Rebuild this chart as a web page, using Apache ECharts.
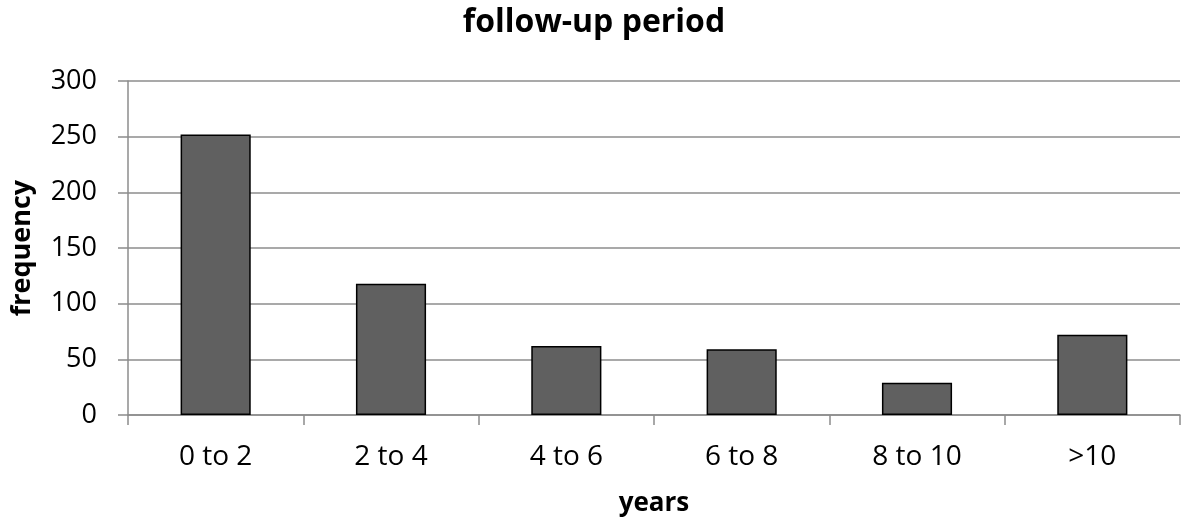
<!DOCTYPE html>
<html>
<head>
<meta charset="utf-8">
<script src="https://cdn.jsdelivr.net/npm/echarts@6/dist/echarts.min.js"></script>
<style>
  html, body { margin: 0; padding: 0; background: #ffffff; }
  #chart { width: 1188px; height: 522px; }
</style>
</head>
<body>
<div id="chart"></div>
<script>
// Follow-up period histogram: number of patients per follow-up interval
const categories = ['0 to 2', '2 to 4', '4 to 6', '6 to 8', '8 to 10', '>10'];
const frequency = [252, 118, 62, 59, 29, 72];
const yTicks = { min: 0, max: 300, interval: 50 };

const FONT = '"Open Sans", "Noto Sans", sans-serif';

const chart = echarts.init(document.getElementById('chart'), null, { renderer: 'canvas' });
chart.setOption({
  animation: false,
  backgroundColor: '#ffffff',
  title: {
    text: 'follow-up period',
    left: 589,
    textAlign: 'center',
    top: 2,
    textStyle: { fontFamily: FONT, fontWeight: 'bold', fontSize: 32, color: '#000000' }
  },
  grid: { left: 128, right: 8, top: 81, bottom: 107, containLabel: false, outerBoundsMode: 'none' },
  xAxis: {
    type: 'category',
    data: categories,
    name: 'years',
    nameLocation: 'middle',
    nameGap: 76,
    nameTextStyle: { fontFamily: FONT, fontWeight: 'bold', fontSize: 26, color: '#000000' },
    axisLine: { show: true, lineStyle: { color: '#8c8c8c', width: 1.5 } },
    axisTick: { show: true, alignWithLabel: false, length: 10, lineStyle: { color: '#8c8c8c', width: 1.5 } },
    axisLabel: { fontFamily: FONT, fontSize: 28, color: '#000000', margin: 28 },
    splitLine: { show: false }
  },
  yAxis: {
    type: 'value',
    min: yTicks.min,
    max: yTicks.max,
    interval: yTicks.interval,
    name: 'frequency',
    nameLocation: 'middle',
    nameGap: 92,
    nameTextStyle: { fontFamily: FONT, fontWeight: 'bold', fontSize: 27, color: '#000000' },
    axisLine: { show: true, lineStyle: { color: '#8c8c8c', width: 1.5 } },
    axisTick: { show: true, inside: false, length: 10, lineStyle: { color: '#8c8c8c', width: 1.5 } },
    axisLabel: { fontFamily: FONT, fontSize: 27, color: '#000000', margin: 31 },
    splitLine: { show: true, lineStyle: { color: '#8c8c8c', width: 1.5 } }
  },
  series: [{
    type: 'bar',
    data: frequency,
    barWidth: '40%',
    itemStyle: { color: '#606060', borderColor: '#000000', borderWidth: 1.5 }
  }]
});
</script>
</body>
</html>
